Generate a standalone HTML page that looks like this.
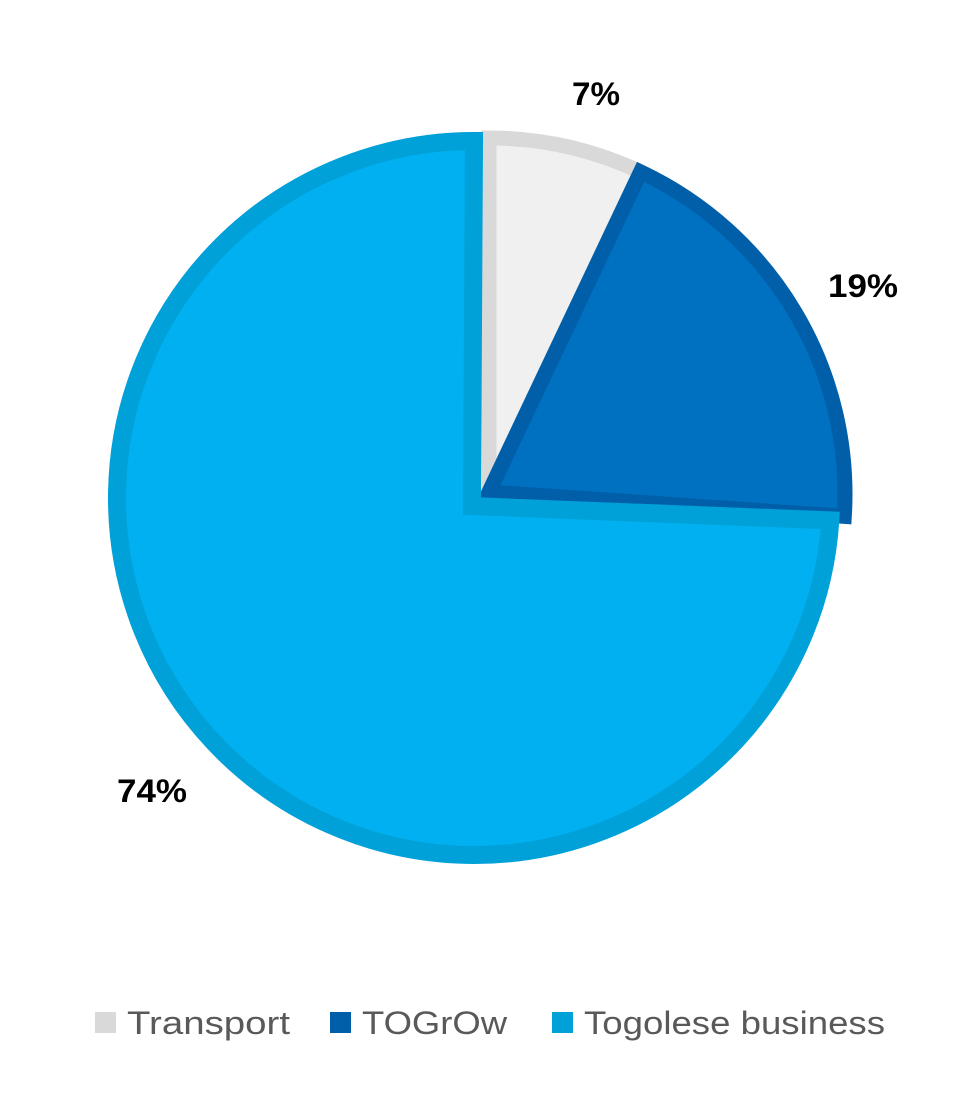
<!DOCTYPE html>
<html><head><meta charset="utf-8"><style>
body{margin:0;background:#fff;width:962px;height:1095px;overflow:hidden;font-family:"Liberation Sans",sans-serif}
</style></head><body>
<svg id="chart" width="962" height="1095">
<g id="slices"></g>
<g id="labels"></g>
<g id="legend"></g>
</svg>
<script>
const categories=["Transport","TOGrOw","Togolese business"];
const values=[7,19,74];
const ns="http://www.w3.org/2000/svg";
const fills=["#f0f0f0","#0070c0","#00b0f0"];
const strokes=["#d9d9d9","#005fa8","#00a0d8"];
const apexes=[[489,492],[489,492],[472,506]];
const arcCs=[[489,494],[489,494],[474,498]];
const radii=[356,356,357];
const sws=[15,15,18];
const labelPos=[[596,105],[863,297],[152,802]];
const labelW=[48,70,70];
const total=values.reduce((a,b)=>a+b,0);
let acc=0;
const sg=document.getElementById('slices'),lg=document.getElementById('labels');
values.forEach((v,i)=>{
  const a0=acc/total*2*Math.PI, a1=(acc+v)/total*2*Math.PI; acc+=v;
  const [ax,ay]=apexes[i], r=radii[i];
  const [cx,cy]=arcCs[i];
  const x0=cx+r*Math.sin(a0), y0=cy-r*Math.cos(a0), x1=cx+r*Math.sin(a1), y1=cy-r*Math.cos(a1);
  const large=(a1-a0)>Math.PI?1:0;
  const p=document.createElementNS(ns,'path');
  p.setAttribute('d',`M${ax},${ay}L${x0},${y0}A${r},${r} 0 ${large} 1 ${x1},${y1}Z`);
  p.setAttribute('fill',fills[i]);p.setAttribute('stroke',strokes[i]);
  p.setAttribute('stroke-width',sws[i]);p.setAttribute('stroke-linejoin','miter');
  
  
  sg.appendChild(p);
  const t=document.createElementNS(ns,'text');
  t.setAttribute('x',labelPos[i][0]);t.setAttribute('y',labelPos[i][1]);
  t.setAttribute('text-anchor','middle');t.setAttribute('font-size','32');t.setAttribute('font-weight','bold');
  t.setAttribute('textLength',labelW[i]);t.setAttribute('lengthAdjust','spacingAndGlyphs');
  t.textContent=v+'%';
  
  
  lg.appendChild(t);
});
const leg=document.getElementById('legend');
const lx=[95,330,552];
const lw=[163,145,301];
categories.forEach((c,i)=>{
  const g=document.createElementNS(ns,'g');
  
  
  const r=document.createElementNS(ns,'rect');
  r.setAttribute('x',lx[i]);r.setAttribute('y',1012);r.setAttribute('width',21);r.setAttribute('height',21);r.setAttribute('fill',strokes[i]);
  g.appendChild(r);
  const t=document.createElementNS(ns,'text');
  t.setAttribute('x',lx[i]+32);t.setAttribute('y',1034);t.setAttribute('font-size','32');t.setAttribute('fill','#595959');
  t.setAttribute('textLength',lw[i]);t.setAttribute('lengthAdjust','spacingAndGlyphs');
  t.textContent=c;g.appendChild(t);
  leg.appendChild(g);
});
</script>
</body></html>
